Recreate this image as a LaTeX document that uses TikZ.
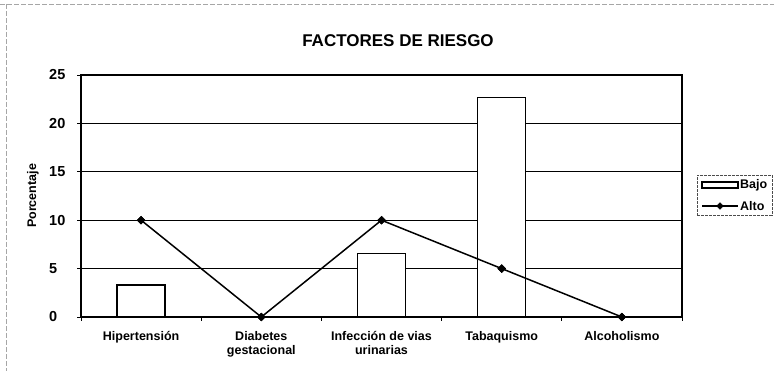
\documentclass[tikz,border=0pt]{standalone}
\usepackage{fontspec}
\setmainfont{Liberation Sans}
\usetikzlibrary{shapes.geometric}
\begin{document}
\begin{tikzpicture}[x=1pt,y=-1pt,
  ticklbl/.style={font=\bfseries\fontsize{14.5}{16}\selectfont, inner sep=0pt, anchor=west},
  catlbl/.style={font=\bfseries\fontsize{12.5}{14}\selectfont, inner sep=0pt, align=center, anchor=north},
  leglbl/.style={font=\bfseries\fontsize{12.5}{14}\selectfont, inner sep=0pt, anchor=west},
  grid line/.style={line width=0.9pt, black},
  frame line/.style={line width=1.4pt, black},
  barbox/.style={draw=black, line width=1.4pt, fill=white, minimum width=48pt, inner sep=0pt, anchor=south},
  dataline/.style={line width=1.5pt, black},
  mk/.style={diamond, fill=black, draw=black, inner sep=0pt, minimum size=8pt},
  scanline/.style={gray!70, line width=0.6pt, dash pattern=on 5pt off 2pt}
]
\useasboundingbox (0,0) rectangle (774,371);
% scanned outer border
\draw[scanline] (0,4) -- (774,4);
\draw[scanline] (6,4) -- (6,371);
% title
\node[font=\bfseries\fontsize{17}{20}\selectfont, inner sep=0pt] (title) at (398,41) {FACTORES DE RIESGO};
% grid lines
\foreach \v/\yy in {5/268.6, 10/220.2, 15/171.8, 20/123.4}{
  \draw[grid line] (81,\yy) -- (682,\yy);
}
% y ticks and labels
\foreach \v/\yy in {0/317, 5/268.6, 10/220.2, 15/171.8, 20/123.4, 25/75}{
  \draw[line width=0.8pt] (77,\yy) -- (81,\yy);
  \node[ticklbl] (t\v) at (49,\yy) {\v};
}
% x ticks
\foreach \xx in {81, 201.2, 321.4, 441.6, 561.8, 682}{
  \draw[line width=0.8pt] (\xx,317) -- (\xx,321);
}
% y label
\node[font=\bfseries\fontsize{12.5}{14}\selectfont, inner sep=0pt, rotate=90] (ylab) at (33,196) {Porcentaje};
% bars
\node[barbox, minimum height=31.2pt] (b1) at (141.1,317) {};
\node[barbox, minimum height=62.5pt] (b3) at (381.5,317) {};
\node[barbox, minimum height=218.6pt] (b4) at (501.7,317) {};
% plot frame
\draw[frame line] (81,75) rectangle (682,317);
% Alto series
\node[mk] (a1) at (141.1,220.2) {};
\node[mk] (a2) at (261.3,317) {};
\node[mk] (a3) at (381.5,220.2) {};
\node[mk] (a4) at (501.7,268.6) {};
\node[mk] (a5) at (621.9,317) {};
\draw[dataline] (a1.center) -- (a2.center) -- (a3.center) -- (a4.center) -- (a5.center);
\foreach \n in {a1,a2,a3,a4,a5}{ \node[mk] at (\n) {}; }
% category labels
\node[catlbl] (c1) at (141.1,331) {Hipertensión};
\node[catlbl] (c2) at (261.3,331) {Diabetes\\gestacional};
\node[catlbl] (c3) at (381.5,331) {Infección de vias\\urinarias};
\node[catlbl] (c4) at (501.7,331) {Tabaquismo};
\node[catlbl] (c5) at (621.9,331) {Alcoholismo};
% legend
\node[draw=black!70, line width=0.6pt, dash pattern=on 3pt off 1pt, minimum width=75pt, minimum height=40pt, inner sep=0pt] (leg) at (734.5,195) {};
\node[draw=black, line width=1.4pt, fill=white, minimum width=36pt, minimum height=6pt, inner sep=0pt] (lbajo) at (720,185) {};
\node[leglbl] (tbajo) at (740,185) {Bajo};
\coordinate (la0) at (702,206);
\coordinate (la1) at (738,206);
\draw[dataline] (la0) -- (la1);
\node[mk, minimum size=7pt] (lalto) at (720,206) {};
\node[leglbl] (talto) at (740,206) {Alto};
\end{tikzpicture}
\end{document}
